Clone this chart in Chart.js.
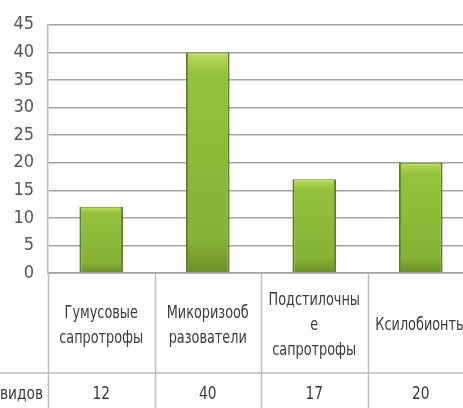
<!DOCTYPE html>
<html>
<head>
<meta charset="utf-8">
<script src="https://cdn.jsdelivr.net/npm/chart.js@4"></script>
<style>
  html, body { margin: 0; padding: 0; background: #fff; overflow: hidden; }
  #wrap { position: relative; width: 474px; height: 408px; }
</style>
</head>
<body>
<div id="wrap"><canvas id="chart"></canvas></div>
<script>
const categories = ['Гумусовые сапротрофы', 'Микоризообразователи', 'Подстилочные сапротрофы', 'Ксилобионты'];
const categoryLines = [
    ['Гумусовые', 'сапротрофы'],
    ['Микоризооб', 'разователи'],
    ['Подстилочны', 'е', 'сапротрофы'],
    ['Ксилобионты']
];
const seriesName = 'Число видов';
const speciesCount = [12, 40, 17, 20];
const yTicks = [0, 5, 10, 15, 20, 25, 30, 35, 40, 45];

const FONT = '"DejaVu Sans Condensed", "Liberation Sans", sans-serif';
const TEXT = '#3a3a3a';
const GRID = '#a4a4a4';
const TABLE = '#bdbdbd';

function barFill(ctx) {
    const chart = ctx.chart;
    const y = chart.scales.y;
    if (!y || !ctx.parsed) return '#8dbb3a';
    const top = y.getPixelForValue(ctx.parsed.y);
    const base = y.getPixelForValue(0);
    if (!isFinite(top) || !isFinite(base) || top === base) return '#8dbb3a';
    const g = chart.ctx.createLinearGradient(0, top, 0, base);
    g.addColorStop(0, '#c6e67a');
    g.addColorStop(0.03, '#acd452');
    g.addColorStop(0.1, '#94c23d');
    g.addColorStop(0.85, '#86b235');
    g.addColorStop(1, '#6a9028');
    return g;
}

// squeeze text a little to get closer to the narrow original face
function narrowText(ctx, text, x, y, sx) {
    ctx.save();
    ctx.translate(x, y);
    ctx.scale(sx, 1);
    ctx.fillText(text, 0, 0);
    ctx.restore();
}

// data table under the plot, positioned from the x scale
const dataTable = {
    id: 'dataTable',
    afterDraw(chart) {
        const ctx = chart.ctx;
        const x = chart.scales.x;
        const area = chart.chartArea;
        const H = chart.height;
        const step = x.getPixelForValue(1) - x.getPixelForValue(0);
        const rowLine = area.bottom + 100;

        ctx.save();
        ctx.strokeStyle = TABLE;
        ctx.lineWidth = 1.5;
        ctx.beginPath();
        for (let i = 0; i <= categories.length; i++) {
            const px = Math.round(x.getPixelForValue(i) - step / 2) + 0.5;
            ctx.moveTo(px, area.bottom);
            ctx.lineTo(px, H);
        }
        ctx.moveTo(0, rowLine);
        ctx.lineTo(chart.width, rowLine);
        ctx.stroke();

        ctx.fillStyle = TEXT;
        ctx.textAlign = 'center';
        ctx.textBaseline = 'middle';
        ctx.font = '17px ' + FONT;
        const lh = 25;
        const mid = (area.bottom + rowLine) / 2 + 3;
        categoryLines.forEach((lines, i) => {
            const cx = x.getPixelForValue(i);
            const y0 = mid - (lines.length - 1) * lh / 2;
            lines.forEach((t, j) => narrowText(ctx, t, cx, y0 + j * lh, 0.84));
        });

        const valY = rowLine + 22;
        speciesCount.forEach((v, i) => {
            narrowText(ctx, String(v), x.getPixelForValue(i), valY, 0.9);
        });
        ctx.textAlign = 'right';
        narrowText(ctx, seriesName, area.left - 5, valY, 0.9);
        ctx.restore();
    }
};

new Chart(document.getElementById('chart'), {
    type: 'bar',
    data: {
        labels: categories,
        datasets: [{
            label: seriesName,
            data: speciesCount,
            backgroundColor: barFill,
            borderColor: '#5d7f24',
            borderWidth: { left: 2, right: 2, top: 1, bottom: 0 },
            borderSkipped: false,
            barPercentage: 0.41,
            categoryPercentage: 1
        }]
    },
    options: {
        responsive: true,
        maintainAspectRatio: false,
        animation: false,
        layout: { padding: { top: 17, right: 0, bottom: 135, left: 0 } },
        plugins: {
            legend: { display: false },
            tooltip: { enabled: false }
        },
        scales: {
            x: {
                grid: { display: false },
                border: { display: true, color: GRID, width: 1.5 },
                ticks: { display: false },
                afterFit: s => { s.height = 0; }
            },
            y: {
                min: 0,
                max: 45,
                afterBuildTicks: s => { s.ticks = yTicks.map(v => ({ value: v })); },
                afterFit: s => { s.width = 48; },
                grid: { color: GRID, lineWidth: 1.5, drawTicks: false },
                border: { display: true, color: TABLE, width: 1.5 },
                ticks: {
                    color: '#555',
                    padding: 14,
                    font: { family: FONT, size: 18 }
                }
            }
        }
    },
    plugins: [dataTable]
});
</script>
</body>
</html>
